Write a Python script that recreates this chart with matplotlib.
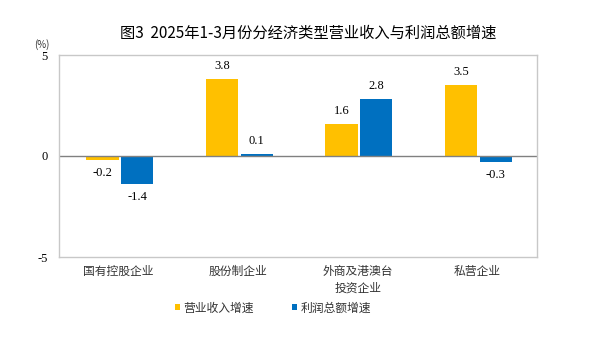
import matplotlib.pyplot as plt
import numpy as np

plt.rcParams['font.family'] = ['Noto Sans CJK SC', 'DejaVu Sans']

# Data
categories = ['国有控股企业', '股份制企业', '外商及港澳台\n投资企业', '私营企业']
revenue_growth = [-0.2, 3.8, 1.6, 3.5]
profit_growth = [-1.4, 0.1, 2.8, -0.3]
series_names = ['营业收入增速', '利润总额增速']

yellow = '#FFC000'
blue = '#0070C0'

fig = plt.figure(figsize=(5.92, 3.39), dpi=100)
ax = fig.add_axes([59 / 592, 1 - 257 / 339, (537 - 59) / 592, (257 - 55) / 339])

x = np.arange(len(categories))
w = 0.27
gap = 0.01
b1 = ax.bar(x - w / 2 - gap + 0.01, revenue_growth, w, color=yellow, label=series_names[0])
b2 = ax.bar(x + w / 2 + gap + 0.01, profit_growth, w, color=blue, label=series_names[1])

num_font = {'family': 'Liberation Serif', 'size': 9}
for bars, vals in ((b1, revenue_growth), (b2, profit_growth)):
    for rect, v in zip(bars, vals):
        cx = rect.get_x() + rect.get_width() / 2
        if v >= 0:
            ax.text(cx, v + 0.35, f'{v:.1f}', ha='center', va='bottom', fontdict=num_font)
        else:
            ax.text(cx, v - 0.35, f'{v:.1f}', ha='center', va='top', fontdict=num_font)

ax.axhline(0, color='#808080', linewidth=1)
ax.set_xlim(-0.5, 3.5)
ax.set_ylim(-5, 5)
ax.set_yticks([-5, 0, 5])
ax.set_yticklabels(['-5', '0', '5'], fontdict=num_font)
ax.set_xticks(x)
ax.set_xticklabels(categories, fontsize=8.5, color='#333333', linespacing=1.3)
ax.tick_params(axis='both', length=0, pad=8)
ax.tick_params(axis='x', pad=6)
for s in ax.spines.values():
    s.set_color('#C8C8C8')
    s.set_linewidth(1)

fig.text(42 / 592, 1 - 45 / 339, '(%)', ha='center', va='center', fontsize=7, color='#333333')
fig.text(308 / 592, 1 - 33 / 339, '图3  2025年1-3月份分经济类型营业收入与利润总额增速',
         ha='center', va='center', fontsize=11, fontweight='normal')

fig.legend(handles=[b1, b2], loc='center', bbox_to_anchor=(273 / 592, 1 - 308 / 339),
           ncol=2, frameon=False, fontsize=8.5, handlelength=0.45, handleheight=0.45,
           handletextpad=0.3, columnspacing=3.2, labelcolor='#333333')

fig.savefig('out.png', dpi=100)
